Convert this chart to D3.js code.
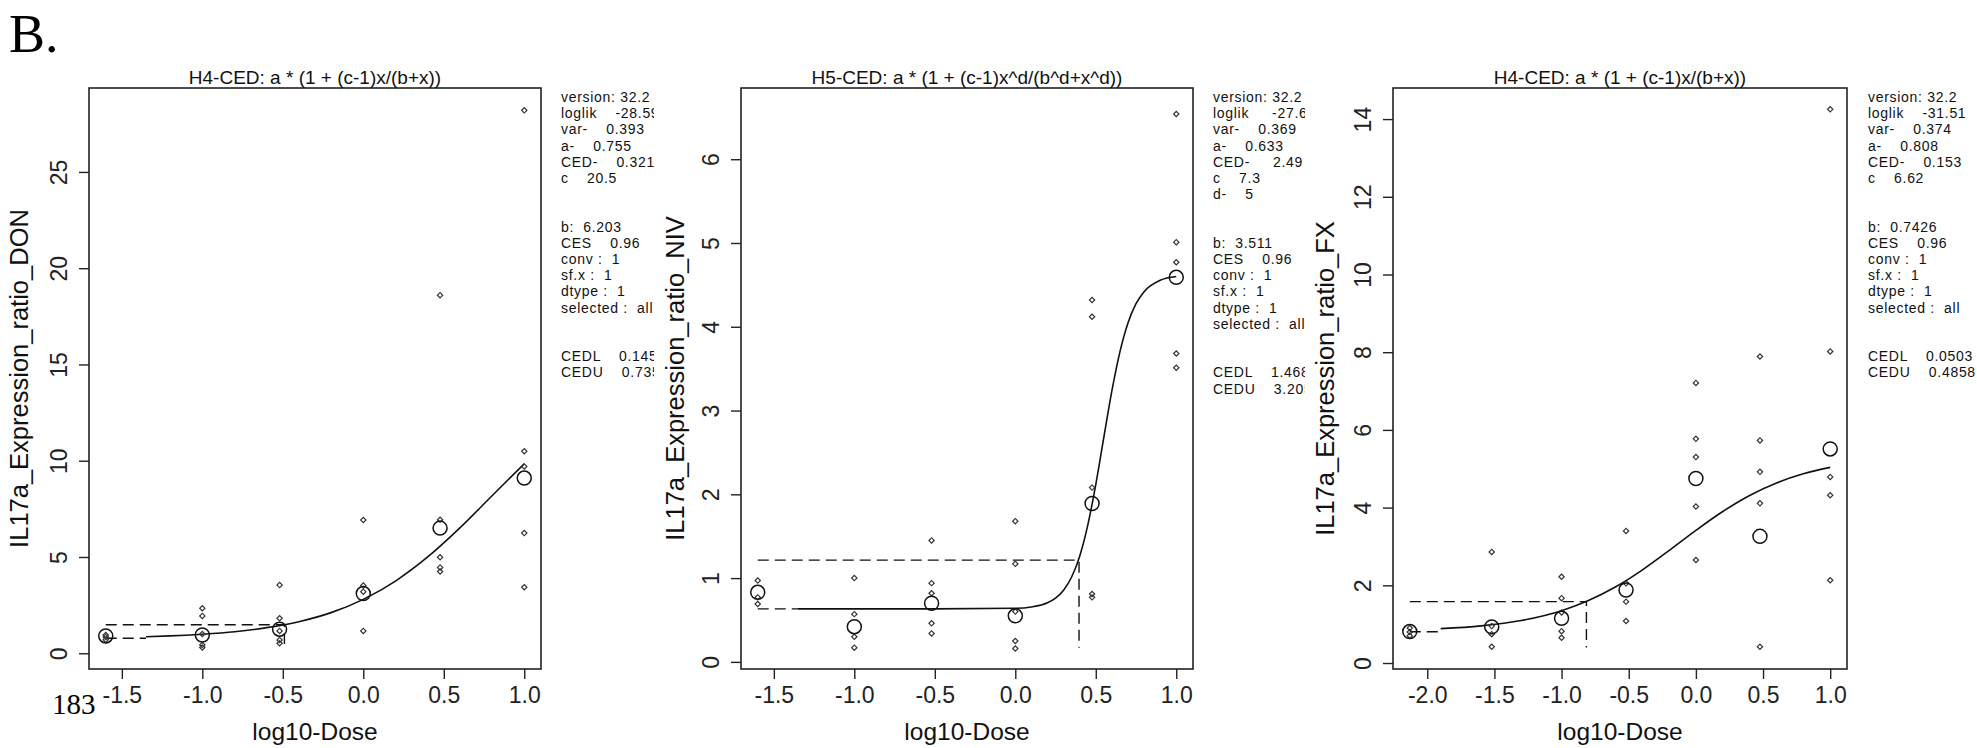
<!DOCTYPE html>
<html>
<head>
<meta charset="utf-8">
<script src="https://cdn.jsdelivr.net/npm/d3@7"></script>
<style>
  body { margin: 0; background: #fff; }
  svg { display: block; font-family: "Liberation Sans", Arial, sans-serif; }
</style>
</head>
<body>
<div id="wrapper"></div>
<script>

// 1. Data (x = log10 dose, control group drawn at the far left)

const doses1 = [-1.6, -1.0, -0.52, 0, 0.477, 1.0]
const points1 = [
  [0.95, 0.85, 0.7],
  [2.34, 1.94, 1.0, 0.43, 0.3],
  [3.54, 1.82, 1.16, 0.69, 0.52],
  [6.92, 3.52, 3.2, 1.16],
  [18.6, 6.93, 4.99, 4.46, 4.25],
  [28.2, 10.49, 9.7, 6.24, 3.43],
]
const means1 = [0.9, 0.95, 1.25, 3.1, 6.5, 9.1]
const curveX1 = [-1.35, -1.2, -1.0, -0.8, -0.6, -0.4, -0.2, 0, 0.2, 0.4, 0.6, 0.8, 1.0]
const curveY1 = [0.86, 0.9, 0.99, 1.12, 1.33, 1.64, 2.11, 2.8, 3.75, 5.0, 6.51, 8.18, 9.84]
const bgLine1 = [[-1.6, 0.78], [-1.35, 0.78]]
const cesLine1 = [[-1.6, 1.48], [-0.49, 1.48], [-0.49, 0.3]]
const xTicks1 = [-1.5, -1.0, -0.5, 0.0, 0.5, 1.0]
const yTicks1 = [0, 5, 10, 15, 20, 25]
const title1 = "H4-CED: a * (1 + (c-1)x/(b+x))"
const yLabel1 = "IL17a_Expression_ratio_DON"
const legend1 = [
  "version: 32.2", "loglik    -28.59", "var-    0.393", "a-    0.755", "CED-    0.321", "c    20.5", "", "",
  "b:  6.203", "CES    0.96", "conv :  1", "sf.x :  1", "dtype :  1", "selected :  all", "", "",
  "CEDL    0.145", "CEDU    0.735",
]

const doses2 = [-1.6, -1.0, -0.52, 0, 0.477, 1.0]
const points2 = [
  [0.97, 0.77, 0.69],
  [1.0, 0.57, 0.3, 0.17],
  [1.45, 0.94, 0.82, 0.46, 0.34],
  [1.68, 1.17, 0.6, 0.25, 0.16],
  [4.32, 4.12, 2.08, 0.81, 0.77],
  [6.54, 5.01, 4.77, 3.68, 3.51],
]
const means2 = [0.83, 0.42, 0.70, 0.55, 1.89, 4.59]
const curveX2 = [-1.35, -0.5, 0, 0.1, 0.2, 0.25, 0.3, 0.35, 0.4, 0.45, 0.5, 0.55, 0.6, 0.65, 0.7, 0.75, 0.8, 0.9, 1.0]
const curveY2 = [0.633, 0.633, 0.64, 0.656, 0.706, 0.762, 0.856, 1.013, 1.262, 1.63, 2.117, 2.679, 3.234, 3.70, 4.045, 4.275, 4.419, 4.555, 4.60]
const bgLine2 = [[-1.6, 0.633], [-1.35, 0.633]]
const cesLine2 = [[-1.6, 1.215], [0.396, 1.215], [0.396, 0.17]]
const xTicks2 = [-1.5, -1.0, -0.5, 0.0, 0.5, 1.0]
const yTicks2 = [0, 1, 2, 3, 4, 5, 6]
const title2 = "H5-CED: a * (1 + (c-1)x^d/(b^d+x^d))"
const yLabel2 = "IL17a_Expression_ratio_NIV"
const legend2 = [
  "version: 32.2", "loglik     -27.63", "var-    0.369", "a-    0.633", "CED-     2.49", "c    7.3", "d-    5", "", "",
  "b:  3.511", "CES    0.96", "conv :  1", "sf.x :  1", "dtype :  1", "selected :  all", "", "",
  "CEDL    1.468", "CEDU    3.205",
]

const doses3 = [-2.13, -1.52, -1.0, -0.52, 0, 0.477, 1.0]
const points3 = [
  [0.9, 0.8, 0.7],
  [2.86, 0.95, 0.74, 0.42],
  [2.22, 1.67, 1.3, 0.82, 0.65],
  [3.4, 2.05, 1.58, 1.08],
  [7.21, 5.77, 5.3, 4.03, 2.65],
  [7.89, 5.73, 4.92, 4.11, 0.42],
  [14.25, 8.02, 4.79, 4.32, 2.13],
]
const means3 = [0.81, 0.93, 1.15, 1.88, 4.75, 3.26, 5.51]
const curveX3 = [-1.9, -1.6, -1.3, -1.0, -0.8, -0.6, -0.4, -0.2, 0, 0.2, 0.4, 0.6, 0.8, 1.0]
const curveY3 = [0.884, 0.957, 1.095, 1.347, 1.607, 1.956, 2.393, 2.894, 3.414, 3.9, 4.313, 4.635, 4.871, 5.035]
const bgLine3 = [[-2.13, 0.805], [-1.9, 0.805]]
const cesLine3 = [[-2.13, 1.58], [-0.815, 1.58], [-0.815, 0.4]]
const xTicks3 = [-2.0, -1.5, -1.0, -0.5, 0.0, 0.5, 1.0]
const yTicks3 = [0, 2, 4, 6, 8, 10, 12, 14]
const title3 = "H4-CED: a * (1 + (c-1)x/(b+x))"
const yLabel3 = "IL17a_Expression_ratio_FX"
const legend3 = [
  "version: 32.2", "loglik    -31.51", "var-    0.374", "a-    0.808", "CED-    0.153", "c    6.62", "", "",
  "b:  0.7426", "CES    0.96", "conv :  1", "sf.x :  1", "dtype :  1", "selected :  all", "", "",
  "CEDL    0.0503", "CEDU    0.4858",
]

const xLabel = "log10-Dose"

// 2. Dimensions

const dimensions = { width: 1977, height: 748, top: 88, bottom: 669 }

const panels = [
  { clip: [0, 654], left: 89, right: 541, xDomain: [-1.704, 1.104], yDomain: [-0.818, 29.36],
    doses: doses1, points: points1, means: means1, curveX: curveX1, curveY: curveY1,
    bgLine: bgLine1, cesLine: cesLine1, xTicks: xTicks1, yTicks: yTicks1,
    title: title1, yLabel: yLabel1, legend: legend1, legendX: 561, yLabelX: 28 },
  { clip: [654, 1305], left: 741, right: 1193, xDomain: [-1.704, 1.104], yDomain: [-0.085, 6.85],
    doses: doses2, points: points2, means: means2, curveX: curveX2, curveY: curveY2,
    bgLine: bgLine2, cesLine: cesLine2, xTicks: xTicks2, yTicks: yTicks2,
    title: title2, yLabel: yLabel2, legend: legend2, legendX: 1213, yLabelX: 684 },
  { clip: [1305, 1977], left: 1393, right: 1847, xDomain: [-2.255, 1.125], yDomain: [-0.154, 14.8],
    doses: doses3, points: points3, means: means3, curveX: curveX3, curveY: curveY3,
    bgLine: bgLine3, cesLine: cesLine3, xTicks: xTicks3, yTicks: yTicks3,
    title: title3, yLabel: yLabel3, legend: legend3, legendX: 1868, yLabelX: 1334 },
]

// 3. Draw canvas

const wrapper = d3.select("#wrapper")
  .append("svg")
    .attr("width", dimensions.width)
    .attr("height", dimensions.height)

wrapper.append("rect")
    .attr("width", dimensions.width)
    .attr("height", dimensions.height)
    .attr("fill", "#fff")

wrapper.append("text")
    .attr("x", 9)
    .attr("y", 52)
    .style("font-family", "'Liberation Serif', 'Times New Roman', serif")
    .style("font-size", "54px")
    .text("B.")

const drawPanel = (p, i) => {
  const clipId = `clip-${i}`
  wrapper.append("clipPath")
      .attr("id", clipId)
    .append("rect")
      .attr("x", p.clip[0])
      .attr("y", 0)
      .attr("width", p.clip[1] - p.clip[0])
      .attr("height", dimensions.height)

  const g = wrapper.append("g")
      .attr("clip-path", `url(#${clipId})`)

  // 4. Create scales

  const xScale = d3.scaleLinear()
    .domain(p.xDomain)
    .range([p.left, p.right])

  const yScale = d3.scaleLinear()
    .domain(p.yDomain)
    .range([dimensions.bottom, dimensions.top])

  // 5. Draw data

  const line = d3.line()
    .x(d => xScale(d[0]))
    .y(d => yScale(d[1]))

  g.append("path")
      .datum(p.bgLine)
      .attr("d", line)
      .attr("fill", "none")
      .attr("stroke", "#111")
      .attr("stroke-width", 1.4)
      .attr("stroke-dasharray", "11 6")

  g.append("path")
      .datum(p.cesLine)
      .attr("d", line)
      .attr("fill", "none")
      .attr("stroke", "#111")
      .attr("stroke-width", 1.4)
      .attr("stroke-dasharray", "11 6")

  g.append("path")
      .datum(p.curveX.map((x, j) => [x, p.curveY[j]]))
      .attr("d", line.curve(d3.curveMonotoneX))
      .attr("fill", "none")
      .attr("stroke", "#111")
      .attr("stroke-width", 1.6)

  const dots = p.doses.flatMap((x, j) => p.points[j].map(y => [x, y]))
  g.selectAll(".dot")
    .data(dots)
    .enter().append("path")
      .attr("class", "dot")
      .attr("d", d3.symbol(d3.symbolSquare, 14))
      .attr("transform", d => `translate(${xScale(d[0])},${yScale(d[1])}) rotate(45)`)
      .attr("fill", "none")
      .attr("stroke", "#333")
      .attr("stroke-width", 1.2)

  g.selectAll(".mean")
    .data(p.doses.map((x, j) => [x, p.means[j]]))
    .enter().append("circle")
      .attr("class", "mean")
      .attr("cx", d => xScale(d[0]))
      .attr("cy", d => yScale(d[1]))
      .attr("r", 7)
      .attr("fill", "none")
      .attr("stroke", "#111")
      .attr("stroke-width", 1.5)

  // 6. Draw peripherals

  g.append("rect")
      .attr("x", p.left)
      .attr("y", dimensions.top)
      .attr("width", p.right - p.left)
      .attr("height", dimensions.bottom - dimensions.top)
      .attr("fill", "none")
      .attr("stroke", "#222")
      .attr("stroke-width", 1.6)

  const xAxis = g.append("g")
      .attr("transform", `translate(0,${dimensions.bottom})`)
      .call(d3.axisBottom(xScale)
        .tickValues(p.xTicks)
        .tickSize(10)
        .tickSizeOuter(0)
        .tickFormat(d => d.toFixed(1)))
  xAxis.select(".domain").remove()
  xAxis.selectAll(".tick line").attr("stroke", "#222").attr("stroke-width", 1.4)
  xAxis.selectAll(".tick text")
      .attr("fill", "#222")
      .style("font-size", "23px")
      .attr("y", 34)
      .attr("dy", 0)

  const yAxis = g.append("g")
      .attr("transform", `translate(${p.left},0)`)
      .call(d3.axisLeft(yScale)
        .tickValues(p.yTicks)
        .tickSize(10)
        .tickSizeOuter(0)
        .tickFormat(d => d))
  yAxis.select(".domain").remove()
  yAxis.selectAll(".tick line").attr("stroke", "#222").attr("stroke-width", 1.4)
  yAxis.selectAll(".tick text")
      .attr("fill", "#222")
      .style("font-size", "23px")
      .attr("text-anchor", "middle")
      .attr("x", 0)
      .attr("dy", 0)
      .attr("transform", "translate(-22,0) rotate(-90)")

  const cx = (p.left + p.right) / 2

  g.append("text")
      .attr("x", cx)
      .attr("y", 84)
      .attr("text-anchor", "middle")
      .style("font-size", "19px")
      .attr("fill", "#111")
      .text(p.title)

  g.append("text")
      .attr("x", cx)
      .attr("y", 740)
      .attr("text-anchor", "middle")
      .style("font-size", "24.5px")
      .attr("fill", "#111")
      .text(xLabel)

  g.append("text")
      .attr("transform", `translate(${p.yLabelX},${(dimensions.top + dimensions.bottom) / 2}) rotate(-90)`)
      .attr("text-anchor", "middle")
      .style("font-size", "25.5px")
      .attr("fill", "#111")
      .text(p.yLabel)

  g.append("g")
    .selectAll("text")
    .data(p.legend)
    .enter().append("text")
      .attr("x", p.legendX)
      .attr("y", (d, j) => 102 + j * 16.2)
      .style("font-size", "14px")
      .style("letter-spacing", "0.7px")
      .style("white-space", "pre")
      .attr("fill", "#111")
      .text(d => d)
}
panels.forEach(drawPanel)

wrapper.append("text")
    .attr("x", 52)
    .attr("y", 714)
    .style("font-family", "'Liberation Serif', 'Times New Roman', serif")
    .style("font-size", "29px")
    .text("183")

</script>
</body>
</html>
